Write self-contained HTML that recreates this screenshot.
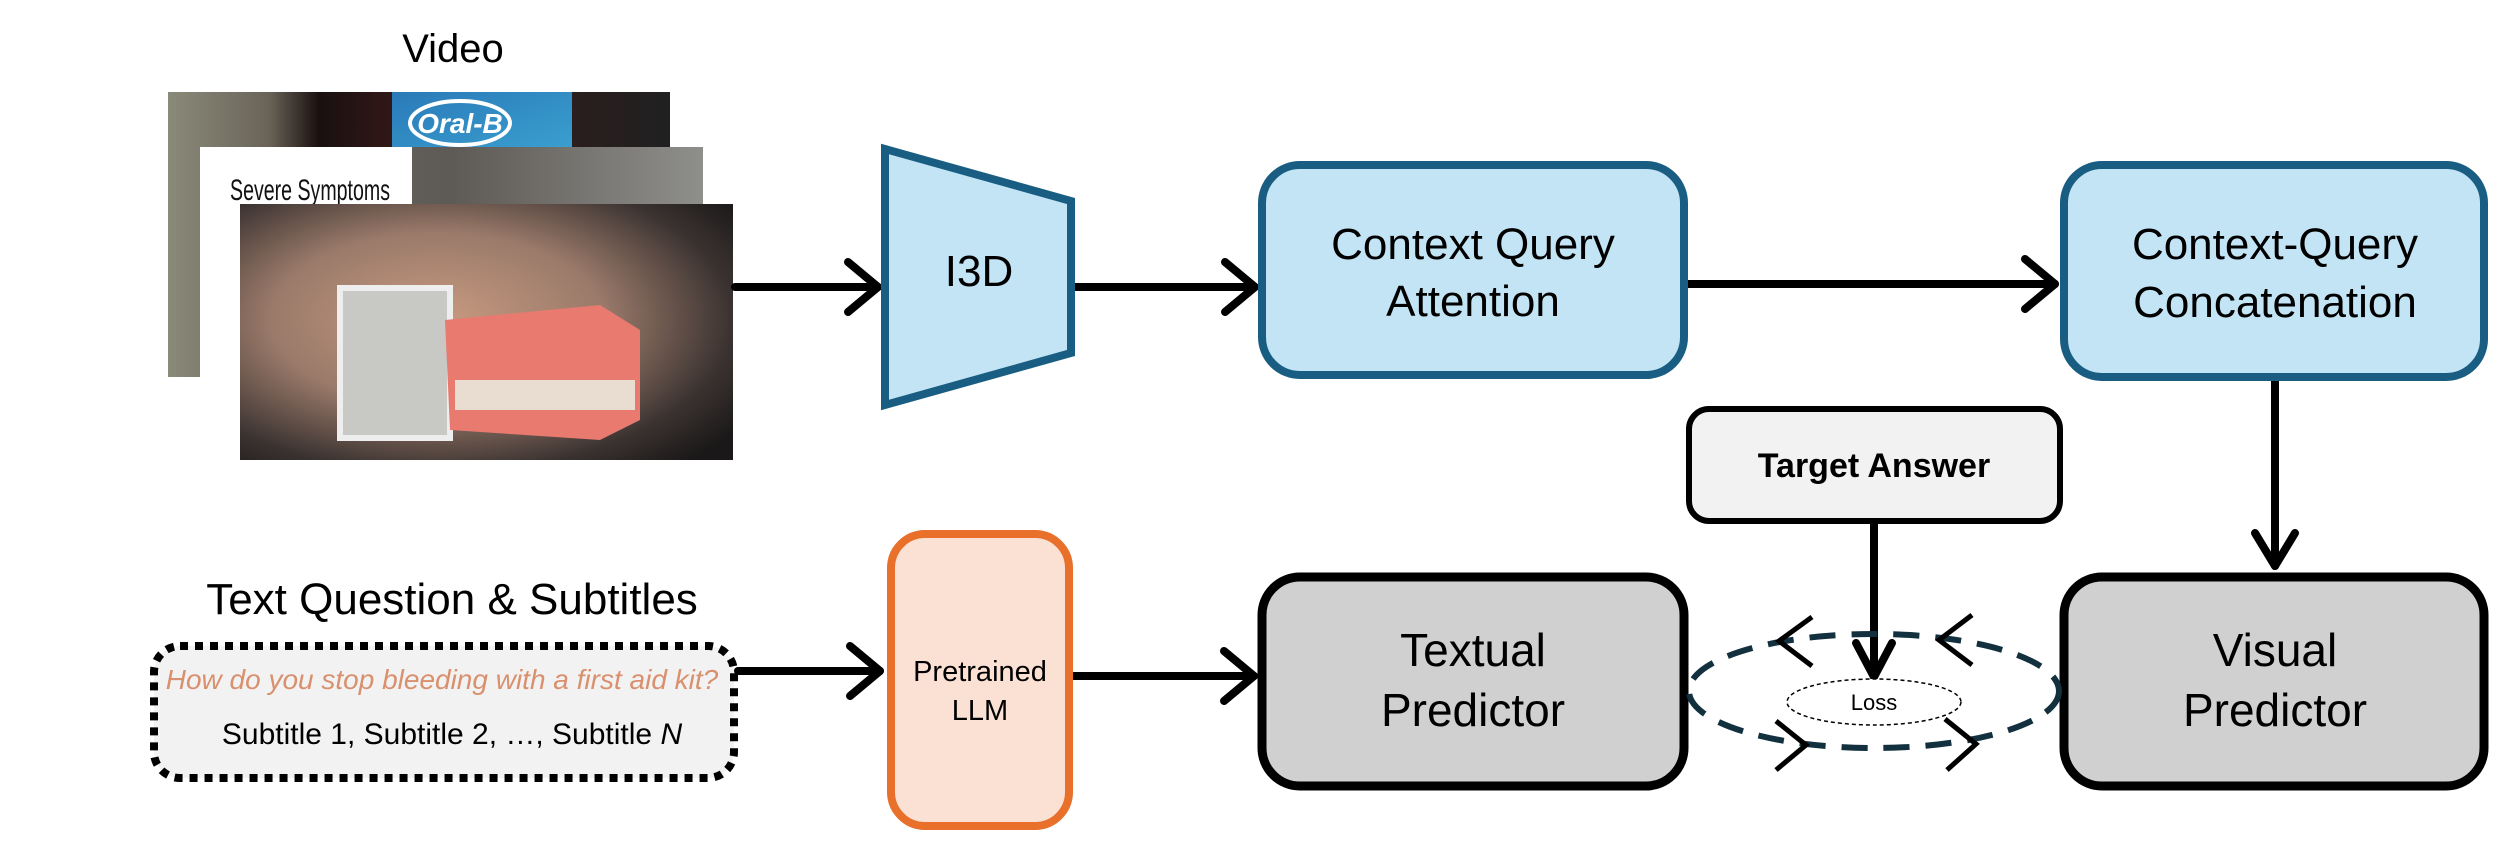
<!DOCTYPE html>
<html><head><meta charset="utf-8"><style>
html,body{margin:0;padding:0;background:#fff;}
svg{display:block;}
text{font-family:"Liberation Sans",Arial,sans-serif;}
</style></head><body>
<svg width="2493" height="848" viewBox="0 0 2493 848" xmlns="http://www.w3.org/2000/svg">
<defs>
<linearGradient id="f1" x1="0" y1="0" x2="1" y2="0">
<stop offset="0" stop-color="#8a8a7a"/><stop offset="0.2" stop-color="#6a6458"/><stop offset="0.3" stop-color="#1a1010"/><stop offset="0.5" stop-color="#3a1a1a"/><stop offset="1" stop-color="#202020"/>
</linearGradient>
<linearGradient id="f2" x1="0" y1="0" x2="1" y2="0">
<stop offset="0" stop-color="#6a6a66"/><stop offset="0.5" stop-color="#5e5a56"/><stop offset="1" stop-color="#8e8e8a"/>
</linearGradient>
<radialGradient id="f3" cx="0.4" cy="0.45" r="0.75">
<stop offset="0" stop-color="#c89a80"/><stop offset="0.45" stop-color="#9a7a6a"/><stop offset="0.8" stop-color="#3a3230"/><stop offset="1" stop-color="#1a1818"/>
</radialGradient>
<linearGradient id="blue" x1="0" y1="0" x2="1" y2="1"><stop offset="0" stop-color="#2a7ab8"/><stop offset="1" stop-color="#3aa0d0"/></linearGradient>
</defs>

<text x="453" y="62" font-size="40" text-anchor="middle">Video</text>
<rect x="168" y="92" width="502" height="285" fill="url(#f1)"/>
<rect x="392" y="92" width="180" height="60" fill="url(#blue)"/>
<ellipse cx="460" cy="123" rx="50" ry="22" fill="none" stroke="#fff" stroke-width="4"/>
<text x="460" y="133" font-size="28" font-weight="bold" font-style="italic" fill="#fff" text-anchor="middle">Oral-B</text>
<rect x="200" y="147" width="503" height="262" fill="url(#f2)"/>
<rect x="200" y="147" width="212" height="262" fill="#fff"/>
<text x="230" y="200" font-size="30" fill="#111" textLength="160" lengthAdjust="spacingAndGlyphs">Severe Symptoms</text>
<rect x="240" y="204" width="493" height="256" fill="url(#f3)"/>
<rect x="340" y="288" width="110" height="150" fill="#c8c8c4" stroke="#eee" stroke-width="6"/>
<path d="M445 320 L600 305 L640 330 L640 420 L600 440 L450 430 Z" fill="#e87a70"/>
<rect x="455" y="380" width="180" height="30" fill="#e8ddd0"/>

<g stroke="#000" stroke-width="8" fill="none" stroke-linecap="round" stroke-linejoin="round">
<line x1="735" y1="287" x2="878" y2="287"/><polyline points="848,262 878,287 848,312"/>
<line x1="1075" y1="287" x2="1255" y2="287"/><polyline points="1225,262 1255,287 1225,312"/>
<line x1="1688" y1="284" x2="2055" y2="284"/><polyline points="2025,259 2055,284 2025,309"/>
<line x1="2275" y1="381" x2="2275" y2="566"/><polyline points="2255,533 2275,566 2295,533"/>
<line x1="738" y1="671" x2="880" y2="671"/><polyline points="850,646 880,671 850,696"/>
<line x1="1073" y1="676" x2="1254" y2="676"/><polyline points="1224,651 1254,676 1224,701"/>
<line x1="1874" y1="524" x2="1874" y2="677"/><polyline points="1856,643 1874,677 1892,643"/>
</g>

<polygon points="885,149 1071,201 1071,353 885,405" fill="#c2e4f4" stroke="#195e82" stroke-width="8"/>
<text x="979" y="286" font-size="44" text-anchor="middle">I3D</text>

<rect x="1262" y="165" width="422" height="210" rx="38" fill="#c2e4f4" stroke="#195e82" stroke-width="8"/>
<text x="1473" y="259" font-size="44" text-anchor="middle">Context Query</text>
<text x="1473" y="316" font-size="44" text-anchor="middle">Attention</text>

<rect x="2064" y="165" width="420" height="212" rx="38" fill="#c2e4f4" stroke="#195e82" stroke-width="8"/>
<text x="2275" y="259" font-size="44" text-anchor="middle">Context-Query</text>
<text x="2275" y="317" font-size="44" text-anchor="middle">Concatenation</text>

<rect x="1689" y="409" width="371" height="112" rx="20" fill="#f2f2f2" stroke="#000" stroke-width="6"/>
<text x="1874" y="477" font-size="34" font-weight="bold" text-anchor="middle">Target Answer</text>

<rect x="1262" y="577" width="422" height="209" rx="38" fill="#d0d0d0" stroke="#000" stroke-width="9"/>
<text x="1473" y="666" font-size="46" text-anchor="middle">Textual</text>
<text x="1473" y="726" font-size="46" text-anchor="middle">Predictor</text>

<rect x="2064" y="577" width="420" height="209" rx="38" fill="#d0d0d0" stroke="#000" stroke-width="9"/>
<text x="2275" y="666" font-size="46" text-anchor="middle">Visual</text>
<text x="2275" y="726" font-size="46" text-anchor="middle">Predictor</text>

<ellipse cx="1874" cy="691" rx="185" ry="57" fill="none" stroke="#13303f" stroke-width="6" stroke-dasharray="26,16"/>
<ellipse cx="1874" cy="702" rx="87" ry="23" fill="#fff" stroke="#000" stroke-width="1.5" stroke-dasharray="4,3"/>
<text x="1874" y="710" font-size="22" text-anchor="middle">Loss</text>
<g stroke="#000" stroke-width="5" fill="none">
<polyline points="1812,617 1779,641 1812,666"/>
<polyline points="1972,615 1939,640 1972,665"/>
<polyline points="1776,721 1806,745 1776,770"/>
<polyline points="1945,719 1976,744 1947,770"/>
</g>

<text x="452" y="614" font-size="44" text-anchor="middle">Text Question &amp; Subtitles</text>
<rect x="154" y="646" width="580" height="132" rx="26" fill="#f2f2f2" stroke="#000" stroke-width="8" stroke-dasharray="8,7"/>
<text x="442" y="689" font-size="28" font-style="italic" fill="#d9906e" text-anchor="middle">How do you stop bleeding with a first aid kit?</text>
<text x="452" y="744" font-size="30" text-anchor="middle">Subtitle 1, Subtitle 2, …, Subtitle <tspan font-style="italic">N</tspan></text>

<rect x="891" y="534" width="178" height="292" rx="34" fill="#fbe1d4" stroke="#e8702a" stroke-width="8"/>
<text x="980" y="681" font-size="29" text-anchor="middle">Pretrained</text>
<text x="980" y="720" font-size="29" text-anchor="middle">LLM</text>
</svg>
</body></html>
